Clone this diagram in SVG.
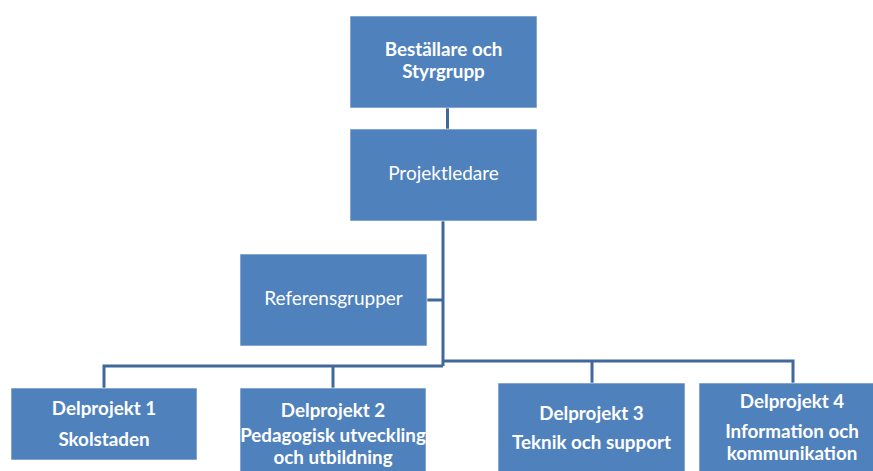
<svg xmlns="http://www.w3.org/2000/svg" width="873" height="471" viewBox="0 0 873 471">
<style>
.box{fill:#4F81BD;stroke:#ffffff;stroke-opacity:0.6;stroke-width:1}
.t{font-family:Lato,"Liberation Sans",sans-serif;fill:#ffffff;text-anchor:middle;font-size:19px}
.b{font-weight:bold;font-size:18.8px}
.c{fill:none;stroke:#41689A;stroke-width:3}
</style>
<rect width="873" height="471" fill="#ffffff"/>
<g id="connectors">
<path class="c" d="M447.5 108V129"/>
<path class="c" d="M443 221V366"/>
<path class="c" d="M427 300H443"/>
<path class="c" d="M104 388V366H443"/>
<path class="c" d="M333 366V388"/>
<path class="c" d="M443 361H793V383"/>
<path class="c" d="M592 361V383"/>
</g>
<g id="bestallare">
<rect class="box" x="350" y="16" width="187" height="92"/>
<text class="t b" x="443.5" y="56">Beställare och</text>
<text class="t b" x="443.5" y="78">Styrgrupp</text>
</g>
<g id="projektledare">
<rect class="box" x="350" y="129" width="187" height="92"/>
<text class="t" x="443.5" y="180">Projektledare</text>
</g>
<g id="referensgrupper">
<rect class="box" x="240" y="254" width="187" height="92"/>
<text class="t" x="333.5" y="305">Referensgrupper</text>
</g>
<g id="delprojekt1">
<rect class="box" x="11" y="388" width="186" height="72"/>
<text class="t b" x="104" y="415">Delprojekt 1</text>
<text class="t b" x="104" y="446">Skolstaden</text>
</g>
<g id="delprojekt2">
<rect class="box" x="240" y="388" width="186" height="90"/>
<text class="t b" x="333" y="417">Delprojekt 2</text>
<text class="t b" x="333" y="442">Pedagogisk utveckling</text>
<text class="t b" x="333" y="464">och utbildning</text>
</g>
<g id="delprojekt3">
<rect class="box" x="498" y="383" width="187" height="95"/>
<text class="t b" x="591.5" y="420">Delprojekt 3</text>
<text class="t b" x="591.5" y="449">Teknik och support</text>
</g>
<g id="delprojekt4">
<rect class="box" x="699" y="383" width="180" height="95"/>
<text class="t b" x="792" y="408">Delprojekt 4</text>
<text class="t b" x="792" y="438">Information och</text>
<text class="t b" x="792" y="460">kommunikation</text>
</g>
</svg>
